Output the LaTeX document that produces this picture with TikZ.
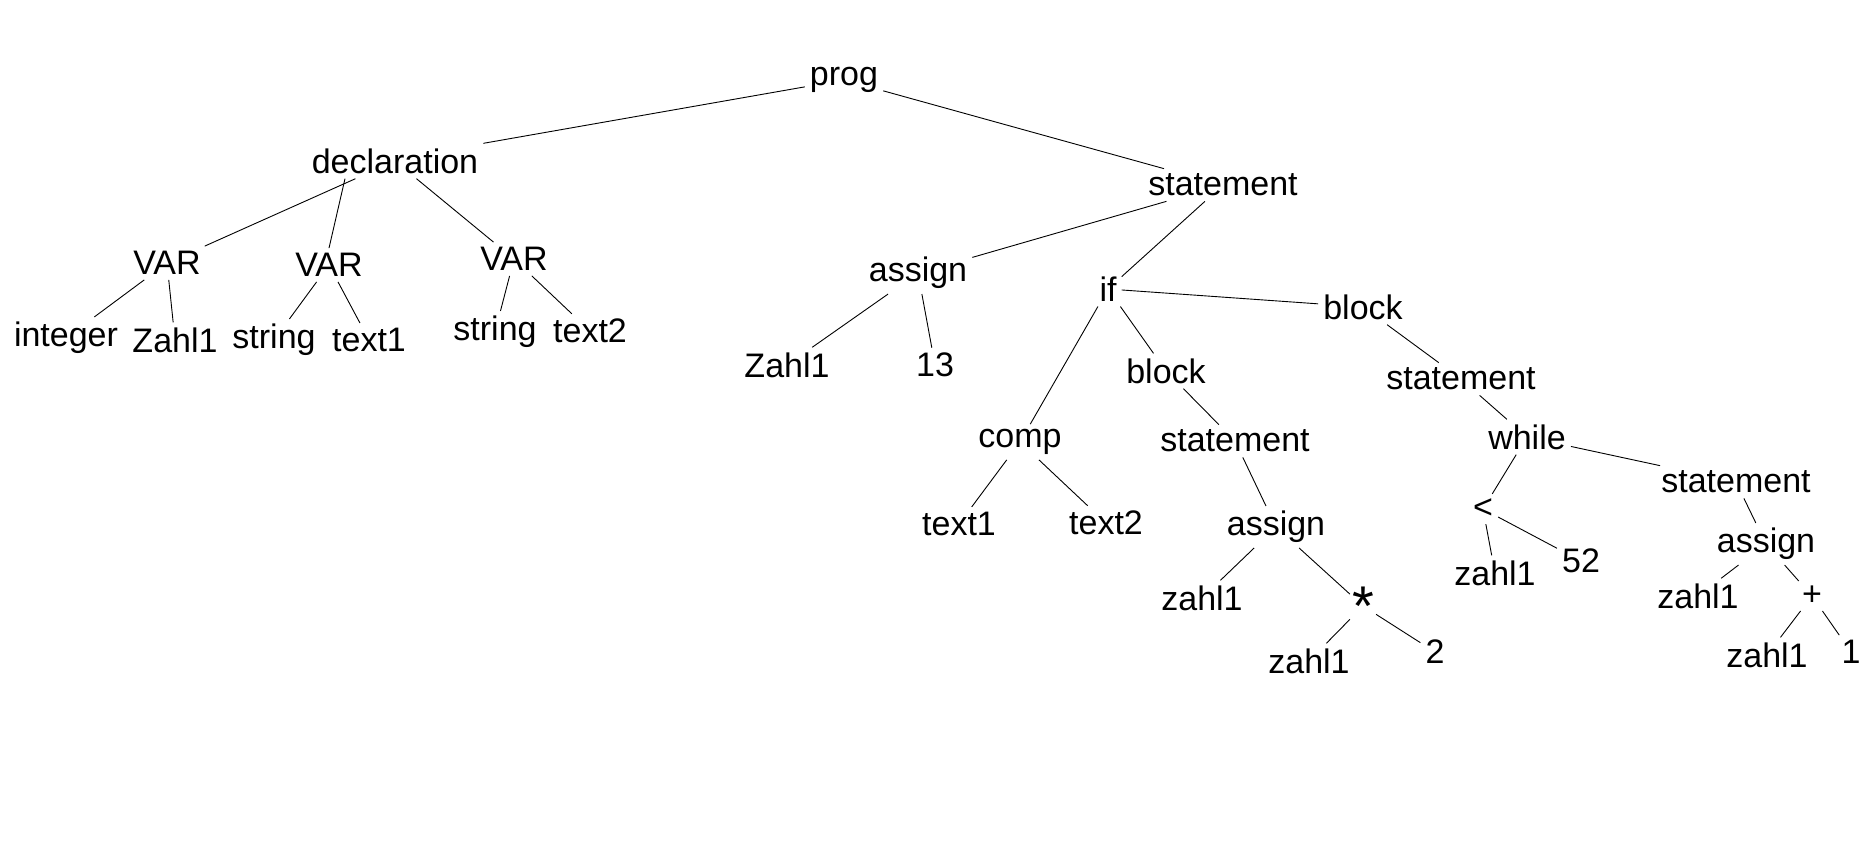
\documentclass[tikz,border=0pt]{standalone}
\usepackage{fontspec}
\setmainfont{Liberation Sans}
\begin{document}
\begin{tikzpicture}[x=1pt,y=-1pt,
  lbl/.style={font=\fontsize{34}{40}\selectfont, inner sep=5pt},
  big/.style={font=\fontsize{56}{60}\selectfont, inner sep=2pt},
  edge/.style={line width=0.9pt}]
\fill[white] (0,0) rectangle (1875,855);
\useasboundingbox (0,0) rectangle (1875,855);
% nodes
\node[lbl] (prog) at (844,80) {prog};
\node[lbl] (decl) at (395,161) {declaration};
\node[lbl] (st0) at (1223,185) {statement};
\node[lbl] (var1) at (167,263) {VAR};
\node[lbl] (var2) at (329,265) {VAR};
\node[lbl] (var3) at (514,259) {VAR};
\node[lbl] (int) at (66,338) {integer};
\node[lbl] (z1) at (175,340) {Zahl1};
\node[lbl] (str1) at (274,340) {string};
\node[lbl] (t1) at (369,340) {text1};
\node[lbl] (str2) at (495,332) {string};
\node[lbl] (t2) at (590,331) {text2};
\node[lbl] (as1) at (918,273) {assign};
\node[lbl] (if) at (1108,289) {if};
\node[lbl] (blk1) at (1363,307) {block};
\node[lbl] (z2) at (787,365) {Zahl1};
\node[lbl] (n13) at (935,365) {13};
\node[lbl] (comp) at (1020,442) {comp};
\node[lbl] (blk2) at (1166,371) {block};
\node[lbl] (st1) at (1235,441) {statement};
\node[lbl] (t3) at (959,524) {text1};
\node[lbl] (t4) at (1106,523) {text2};
\node[lbl] (as2) at (1276,527) {assign};
\node[lbl] (z3) at (1202,598) {zahl1};
\node[big] (mul) at (1363,606) {*};
\node[lbl] (z4) at (1309,661) {zahl1};
\node[lbl] (n2) at (1435,652) {2};
\node[lbl] (st2) at (1461,379) {statement};
\node[lbl] (wh) at (1527,437) {while};
\node[lbl] (st3) at (1736,482) {statement};
\node[lbl] (lt) at (1483,509) {<};
\node[lbl] (z5) at (1495,573) {zahl1};
\node[lbl] (n52) at (1581,561) {52};
\node[lbl] (as3) at (1766,544) {assign};
\node[lbl] (z6) at (1698,596) {zahl1};
\node[lbl] (plus) at (1812,596) {+};
\node[lbl] (z7) at (1767,655) {zahl1};
\node[lbl] (n1) at (1851,652) {1};
% edges
\draw[edge] (prog) -- (decl.north east);
\draw[edge] (prog) -- (st0);
\draw[edge] (decl) -- (var1);
\draw[edge] ([xshift=-50pt]decl.south) -- (var2.north);
\draw[edge] (decl) -- (var3);
\draw[edge] (var1) -- (int);
\draw[edge] (var1) -- (z1);
\draw[edge] (var2) -- (str1);
\draw[edge] (var2) -- (t1);
\draw[edge] (var3) -- (str2);
\draw[edge] (var3) -- (t2);
\draw[edge] (st0) -- (as1);
\draw[edge] (st0) -- (if);
\draw[edge] (as1) -- (z2);
\draw[edge] (as1) -- (n13);
\draw[edge] (if) -- (blk1);
\draw[edge] (if) -- (comp);
\draw[edge] (if) -- (blk2);
\draw[edge] (blk1) -- (st2);
\draw[edge] (blk2) -- (st1);
\draw[edge] (comp) -- (t3);
\draw[edge] (comp) -- (t4);
\draw[edge] (st1) -- (as2);
\draw[edge] (as2) -- (z3);
\draw[edge] (as2) -- (mul);
\draw[edge] (mul) -- (z4);
\draw[edge] (mul) -- (n2);
\draw[edge] (st2) -- (wh);
\draw[edge] (wh) -- (lt);
\draw[edge] (wh) -- (st3);
\draw[edge] (lt) -- (z5);
\draw[edge] (lt) -- (n52);
\draw[edge] (st3) -- (as3);
\draw[edge] (as3) -- (z6);
\draw[edge] (as3) -- (plus);
\draw[edge] (plus) -- (z7);
\draw[edge] (plus) -- (n1);
\end{tikzpicture}
\end{document}
